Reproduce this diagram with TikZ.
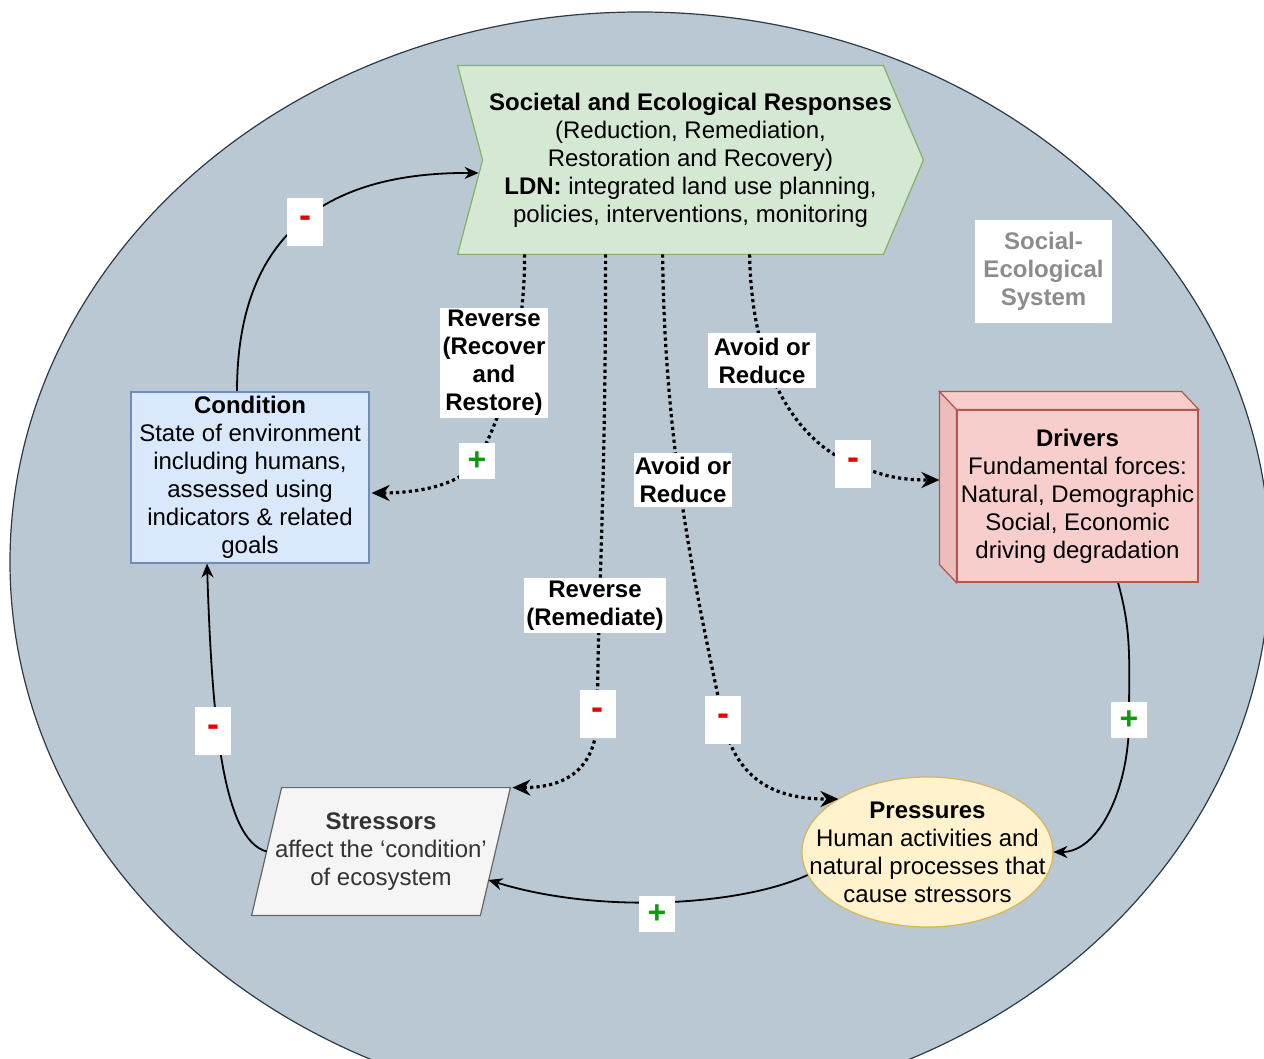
\documentclass[tikz,border=0pt]{standalone}
\usepackage{fontspec}
\setmainfont{Liberation Sans}
\usetikzlibrary{arrows.meta,calc,shapes.geometric}
\definecolor{sesfill}{HTML}{BAC8D3}
\definecolor{sesline}{HTML}{2B3A45}
\definecolor{respfill}{HTML}{D5E8D4}
\definecolor{respline}{HTML}{82B366}
\definecolor{condfill}{HTML}{DAE8FC}
\definecolor{condline}{HTML}{6C8EBF}
\definecolor{drvfill}{HTML}{F8CECC}
\definecolor{drvline}{HTML}{B85450}
\definecolor{drvside}{HTML}{EDBDBB}
\definecolor{strfill}{HTML}{F5F5F5}
\definecolor{strline}{HTML}{666666}
\definecolor{strtext}{HTML}{333333}
\definecolor{presfill}{HTML}{FFF2CC}
\definecolor{presline}{HTML}{D6B656}
\definecolor{minusred}{HTML}{E60000}
\definecolor{plusgreen}{HTML}{129912}
\definecolor{sestext}{HTML}{8C8C8C}
\pgfdeclarelayer{bg}
\pgfdeclarelayer{edges}
\pgfsetlayers{bg,edges,main}
\begin{document}
\begin{tikzpicture}[x=0.5pt,y=-0.5pt,
  txt/.style={align=center,font=\fontsize{12}{14}\selectfont,inner sep=0pt},
  lbl/.style={align=center,fill=white,inner sep=0pt,font=\fontsize{12}{14}\selectfont\bfseries},
  minus/.style={fill=white,minimum width=18pt,minimum height=24pt,inner sep=0pt,text=minusred,font=\fontsize{18}{18}\selectfont\bfseries},
  plus/.style={fill=white,minimum width=18pt,minimum height=18pt,inner sep=0pt,text=plusgreen,font=\fontsize{16}{16}\selectfont\bfseries},
  link/.style={line width=0.9pt,-{Stealth[length=7pt,width=6pt]}},
  dlink/.style={line width=1.6pt,dash pattern=on 1.6pt off 1.6pt,-{Stealth[length=9pt,width=8pt]}},
]
\useasboundingbox (0,0) rectangle (1264,1059);
\clip (0,0) rectangle (1264,1059);

% ---------- main nodes ----------
\node[txt,minimum width=232.5pt,minimum height=94pt] (resp) at (690.5,160)
  {\textbf{Societal and Ecological Responses}\\(Reduction, Remediation,\\Restoration and Recovery)\\\textbf{LDN:} integrated land use planning,\\policies, interventions, monitoring};
\node[txt,draw=condline,fill=condfill,line width=0.6pt,minimum width=119pt,minimum height=85.5pt] (cond) at (250,477.5)
  {\textbf{Condition}\\State of environment\\including humans,\\assessed using\\indicators \& related\\goals};
\node[txt,draw=drvline,fill=drvfill,line width=0.6pt,minimum width=120.5pt,minimum height=86pt] (drv) at (1077.5,496)
  {\textbf{Drivers}\\Fundamental forces:\\Natural, Demographic\\Social, Economic\\driving degradation};
\node[txt,text=strtext,minimum width=129pt,minimum height=63.5pt] (str) at (381,851.5)
  {\textbf{Stressors}\\affect the ‘condition’\\of ecosystem};
\node[txt,minimum width=125.5pt,minimum height=75pt] (pres) at (927.5,852)
  {\textbf{Pressures}\\Human activities and\\natural processes that\\cause stressors};
\node[txt,fill=white,text=sestext,font=\fontsize{12}{14}\selectfont\bfseries,minimum width=68.5pt,minimum height=51.5pt] (ses) at (1043.5,271.5)
  {Social-\\Ecological\\System};

% ---------- connector labels ----------
\node[lbl,minimum width=54pt,minimum height=55pt] (lblA) at (494,363) {Reverse\\(Recover\\and\\Restore)};
\node[lbl,minimum width=54pt,minimum height=27.5pt] (lblB) at (762,360.5) {Avoid or\\Reduce};
\node[lbl,minimum width=49pt,minimum height=27pt] (lblC) at (683,480) {Avoid or\\Reduce};
\node[lbl,minimum width=71pt,minimum height=27.5pt] (lblD) at (595,605.5) {Reverse\\(Remediate)};
\node[minus] (m1) at (305,222) {\raisebox{-1.5pt}{-}};
\node[minus] (m2) at (213,731) {\raisebox{-1.5pt}{-}};
\node[minus] (m3) at (597.5,714) {\raisebox{-1.5pt}{-}};
\node[minus] (m4) at (723,720) {\raisebox{-1.5pt}{-}};
\node[minus] (m5) at (853,464) {\raisebox{-1.5pt}{-}};
\node[plus] (p1) at (477,461) {+};
\node[plus] (p2) at (1129,720) {+};
\node[plus] (p3) at (657,914) {+};

% ---------- background shapes ----------
\begin{pgfonlayer}{bg}
  \filldraw[fill=sesfill,draw=sesline,line width=0.6pt] (640,562) ellipse [x radius=630,y radius=550];
  \filldraw[fill=respfill,draw=respline,line width=0.6pt]
    (resp.north west) -- ($(resp.north east)+(-40,0)$) -- (resp.east)
    -- ($(resp.south east)+(-40,0)$) -- (resp.south west) -- ($(resp.west)+(25,0)$) -- cycle;
  \filldraw[fill=drvside,draw=drvline,line width=0.6pt]
    ($(drv.north west)+(-17,-18)$) -- (drv.north west) -- (drv.south west) -- ($(drv.south west)+(-17,-18)$) -- cycle;
  \filldraw[fill=drvfill,draw=drvline,line width=0.6pt]
    ($(drv.north west)+(-17,-18)$) -- ($(drv.north east)+(-17,-18)$) -- (drv.north east) -- (drv.north west) -- cycle;
  \filldraw[fill=strfill,draw=strline,line width=0.6pt]
    ($(str.north west)+(30,0)$) -- (str.north east) -- ($(str.south east)+(-30,0)$) -- (str.south west) -- cycle;
  \filldraw[fill=presfill,draw=presline,line width=0.6pt] (pres.center) ellipse [x radius=125.5,y radius=75];
\end{pgfonlayer}

% ---------- connectors ----------
\begin{pgfonlayer}{edges}
  \draw[link] ($(cond.north)+(-13,0)$) .. controls +(0,-132) and +(-179,-1) .. ($(resp.west)+(21,13)$);
  \draw[link] ($(str.west)+(15,0)$) .. controls +(-44,-12) and +(5,157) .. ($(cond.south)+(-43,0)$);
  \draw[link] ($(pres.west)+(6,23)$) .. controls +(-65,30) and +(113,35) .. ($(str.east)+(-22,28.5)$);
  \draw[link] ($(drv.south)+(40.5,0)$) .. controls +(14,50) and +(0,-60) .. (p2.center)
     .. controls +(0,70) and +(45,0) .. (pres.east);
  \draw[dlink] ($(resp.south west)+(67,0)$) .. controls +(0,96) and +(22,-38) .. (p1.center)
     .. controls +(-18,27) and +(38,0) .. ($(cond.east)+(2,15.5)$);
  \draw[dlink] ($(resp.south west)+(148,0)$) .. controls +(0,250) and +(0,-110) .. (m3.center)
     .. controls +(0,62) and +(45,0) .. ($(str.north east)+(2,0)$);
  \draw[dlink] ($(resp.south west)+(205,0)$) .. controls +(2,200) and +(-25,-120) .. (m4.center)
     .. controls +(15,70) and +(-50,0) .. ($(pres.center)+(-89,-53)$);
  \draw[dlink] ($(resp.south west)+(292,0)$) .. controls +(2,120) and +(-55,-22) .. (m5.center)
     .. controls +(30,12) and +(-40,0) .. ($(drv.west)+(-17,-16)$);
\end{pgfonlayer}
\end{tikzpicture}
\end{document}
